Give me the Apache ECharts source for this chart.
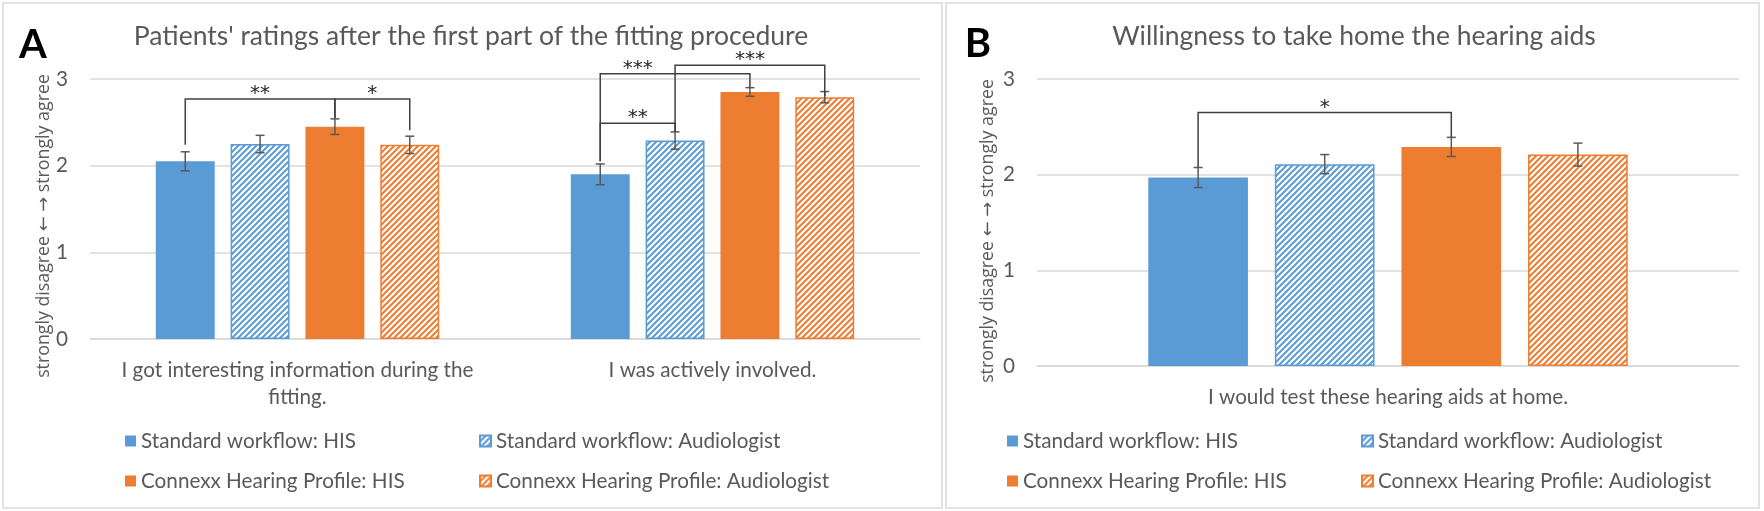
<!DOCTYPE html>
<html>
<head>
<meta charset="utf-8">
<script src="https://cdn.jsdelivr.net/npm/echarts@6/dist/echarts.min.js"></script>
<style>
  html, body { margin: 0; padding: 0; background: #fff; }
  #main { width: 1764px; height: 511px; }
</style>
</head>
<body>
<div id="main"></div>
<script>
// categories and series names
var catsA = ['I got interesting information during the\nfitting.', 'I was actively involved.'];
var catsB = ['I would test these hearing aids at home.'];
var names = ['Standard workflow: HIS', 'Standard workflow: Audiologist', 'Connexx Hearing Profile: HIS', 'Connexx Hearing Profile: Audiologist'];

// panel A means
var stdHisA = [2.05, 1.90];
var stdAudA = [2.25, 2.29];
var cxHisA = [2.45, 2.85];
var cxAudA = [2.24, 2.79];
// panel A error (half length), one list per series
var errA = [[0.11, 0.12], [0.10, 0.10], [0.09, 0.05], [0.10, 0.065]];

// panel B means
var stdHisB = [1.97];
var stdAudB = [2.11];
var cxHisB = [2.29];
var cxAudB = [2.21];
var errB = [[0.105], [0.10], [0.10], [0.12]];

// significance brackets:
// [category, bar from, bar to, line level, leg end from, leg end to, stars, label pos (in bar slots)]
var sigA = [
  [0, 0, 2, 2.77, 2.24, 2.55, '**', 1],
  [0, 2, 3, 2.77, 2.55, 2.41, '*', 2.5],
  [1, 0, 1, 2.49, 2.05, 2.39, '**', 0.5],
  [1, 0, 2, 3.06, 2.05, 2.90, '***', 0.5],
  [1, 1, 3, 3.16, 2.39, 2.80, '***', 2]
];
var sigB = [
  [0, 0, 2, 2.65, 2.08, 2.39, '*', 1]
];

var BLUE = '#5B9BD5', ORANGE = '#ED7D31';
var TXT = '#595959';
var FONT = 'Lato, "Open Sans", sans-serif';
var FS = 20.7;
var BAR_W = 0.142, GAP = 0.27;

// hatch for the audiologist bars
function hatch(color) {
  var c = document.createElement('canvas');
  c.width = 6; c.height = 6;
  var g = c.getContext('2d');
  g.fillStyle = '#fff';
  g.fillRect(0, 0, 6, 6);
  g.strokeStyle = color;
  g.lineWidth = 2;
  g.beginPath();
  g.moveTo(0, 6); g.lineTo(6, 0);
  g.moveTo(-1, 1); g.lineTo(1, -1);
  g.moveTo(5, 7); g.lineTo(7, 5);
  g.stroke();
  return { image: c, repeat: 'repeat' };
}

var styles = [
  { color: BLUE },
  { color: hatch(BLUE), borderColor: BLUE, borderWidth: 1.5 },
  { color: ORANGE },
  { color: hatch(ORANGE), borderColor: ORANGE, borderWidth: 1.5 }
];

// x of a bar (or a fractional bar slot) inside its category
function barX(api, cat, idx) {
  var c = api.coord([cat, 0])[0];
  var band = api.size([1, 0])[0];
  var w = band * BAR_W;
  return c + (idx - 1.5) * w * (1 + GAP);
}

function errRender(params, api) {
  var cat = api.value(0), idx = api.value(1);
  var x = barX(api, cat, idx);
  var lo = api.coord([cat, api.value(2)])[1];
  var hi = api.coord([cat, api.value(3)])[1];
  var st = { stroke: '#595959', lineWidth: 1.5 };
  return {
    type: 'group',
    children: [
      { type: 'line', shape: { x1: x, y1: lo, x2: x, y2: hi }, style: st },
      { type: 'line', shape: { x1: x - 4.5, y1: lo, x2: x + 4.5, y2: lo }, style: st },
      { type: 'line', shape: { x1: x - 4.5, y1: hi, x2: x + 4.5, y2: hi }, style: st }
    ]
  };
}

function sigRender(list) {
  return function (params, api) {
    var s = list[params.dataIndex];
    var cat = s[0];
    var x1 = barX(api, cat, s[1]), x2 = barX(api, cat, s[2]);
    var yTop = api.coord([cat, s[3]])[1];
    var y1 = api.coord([cat, s[4]])[1];
    var y2 = api.coord([cat, s[5]])[1];
    return {
      type: 'group',
      children: [
        { type: 'polyline', shape: { points: [[x1, y1], [x1, yTop], [x2, yTop], [x2, y2]] },
          style: { stroke: '#404040', lineWidth: 1.5, fill: null } },
        { type: 'text', x: barX(api, cat, s[7]), y: yTop - 5,
          style: { text: s[6], fill: '#262626', font: '20px "DejaVu Sans", sans-serif', textAlign: 'center', textVerticalAlign: 'middle' } }
      ]
    };
  };
}

function errData(vals, errs) {
  var out = [];
  vals.forEach(function (v, i) {
    v.forEach(function (m, c) {
      out.push([c, i, m - errs[i][c], m + errs[i][c]]);
    });
  });
  return out;
}

function barSeries(vals, ax) {
  return vals.map(function (v, i) {
    return {
      name: names[i], type: 'bar', xAxisIndex: ax, yAxisIndex: ax,
      data: v, barWidth: (BAR_W * 100) + '%', barGap: (GAP * 100) + '%',
      itemStyle: styles[i], emphasis: { disabled: true }
    };
  });
}

var valsA = [stdHisA, stdAudA, cxHisA, cxAudA];
var valsB = [stdHisB, stdAudB, cxHisB, cxAudB];

var yAxisBase = {
  type: 'value', min: 0, max: 3, interval: 1,
  axisLine: { show: false }, axisTick: { show: false },
  axisLabel: { fontSize: FS, color: TXT, fontFamily: FONT, margin: 22 },
  splitLine: { lineStyle: { color: '#d9d9d9', width: 1.5 } }
};
function xAxisBase(cats, ax) {
  return {
    type: 'category', data: cats, gridIndex: ax,
    axisLine: { lineStyle: { color: '#d9d9d9', width: 1.5 } },
    axisTick: { show: false },
    axisLabel: { fontSize: FS, color: TXT, fontFamily: FONT, margin: 18, lineHeight: 27, interval: 0 }
  };
}

function legendAt(name, x, yc) {
  return {
    data: [name], left: x, top: yc - 13, padding: 0, selectedMode: false,
    icon: 'rect', itemWidth: 11, itemHeight: 11,
    textStyle: { fontSize: FS, color: TXT, fontFamily: FONT, lineHeight: 26 }
  };
}

function textEl(t, x, y, size, opts) {
  opts = opts || {};
  return {
    type: 'text', x: x, y: y, rotation: opts.rot || 0, silent: true,
    style: {
      text: t, fill: opts.fill || TXT,
      font: (opts.bold ? 'bold ' : '') + size + 'px ' + (opts.family || FONT),
      textAlign: 'center', textVerticalAlign: 'middle'
    }
  };
}

var option = {
  animation: false,
  grid: [
    { left: 90, top: 79, width: 830, height: 260 },
    { left: 1037, top: 79, width: 702, height: 287 }
  ],
  xAxis: [xAxisBase(catsA, 0), xAxisBase(catsB, 1)],
  yAxis: [Object.assign({ gridIndex: 0 }, yAxisBase), Object.assign({ gridIndex: 1 }, yAxisBase)],
  legend: [
    legendAt(names[0], 125, 441), legendAt(names[1], 479, 441),
    legendAt(names[2], 125, 481), legendAt(names[3], 479, 481),
    legendAt(names[0], 1007, 441), legendAt(names[1], 1361, 441),
    legendAt(names[2], 1007, 481), legendAt(names[3], 1361, 481)
  ],
  graphic: [
    { type: 'rect', shape: { x: 3, y: 3, width: 939, height: 505 }, style: { fill: null, stroke: '#d9d9d9', lineWidth: 1.5 }, silent: true },
    { type: 'rect', shape: { x: 946, y: 3, width: 813, height: 505 }, style: { fill: null, stroke: '#d9d9d9', lineWidth: 1.5 }, silent: true },
    textEl('A', 33, 45, 40, { bold: true, fill: '#000' }),
    textEl('B', 978, 44, 40, { bold: true, fill: '#000' }),
    textEl("Patients' ratings after the first part of the fitting procedure", 471, 36, 26.5),
    textEl('Willingness to take home the hearing aids', 1354, 36, 26.5),
    textEl('strongly disagree \u2190 \u2192 strongly agree', 44, 226, 17.8, { rot: Math.PI / 2, family: '"Open Sans", "DejaVu Sans", sans-serif' }),
    textEl('strongly disagree \u2190 \u2192 strongly agree', 988, 231, 17.8, { rot: Math.PI / 2, family: '"Open Sans", "DejaVu Sans", sans-serif' })
  ],
  series: barSeries(valsA, 0).concat(barSeries(valsB, 1)).concat([
    { type: 'custom', xAxisIndex: 0, yAxisIndex: 0, renderItem: errRender, data: errData(valsA, errA), z: 5, silent: true },
    { type: 'custom', xAxisIndex: 1, yAxisIndex: 1, renderItem: errRender, data: errData(valsB, errB), z: 5, silent: true },
    { type: 'custom', xAxisIndex: 0, yAxisIndex: 0, renderItem: sigRender(sigA), data: sigA.map(function (s) { return [s[0], s[3]]; }), z: 6, silent: true, clip: false },
    { type: 'custom', xAxisIndex: 1, yAxisIndex: 1, renderItem: sigRender(sigB), data: sigB.map(function (s) { return [s[0], s[3]]; }), z: 6, silent: true, clip: false }
  ])
};

var chart = echarts.init(document.getElementById('main'));
chart.setOption(option);
</script>
</body>
</html>
